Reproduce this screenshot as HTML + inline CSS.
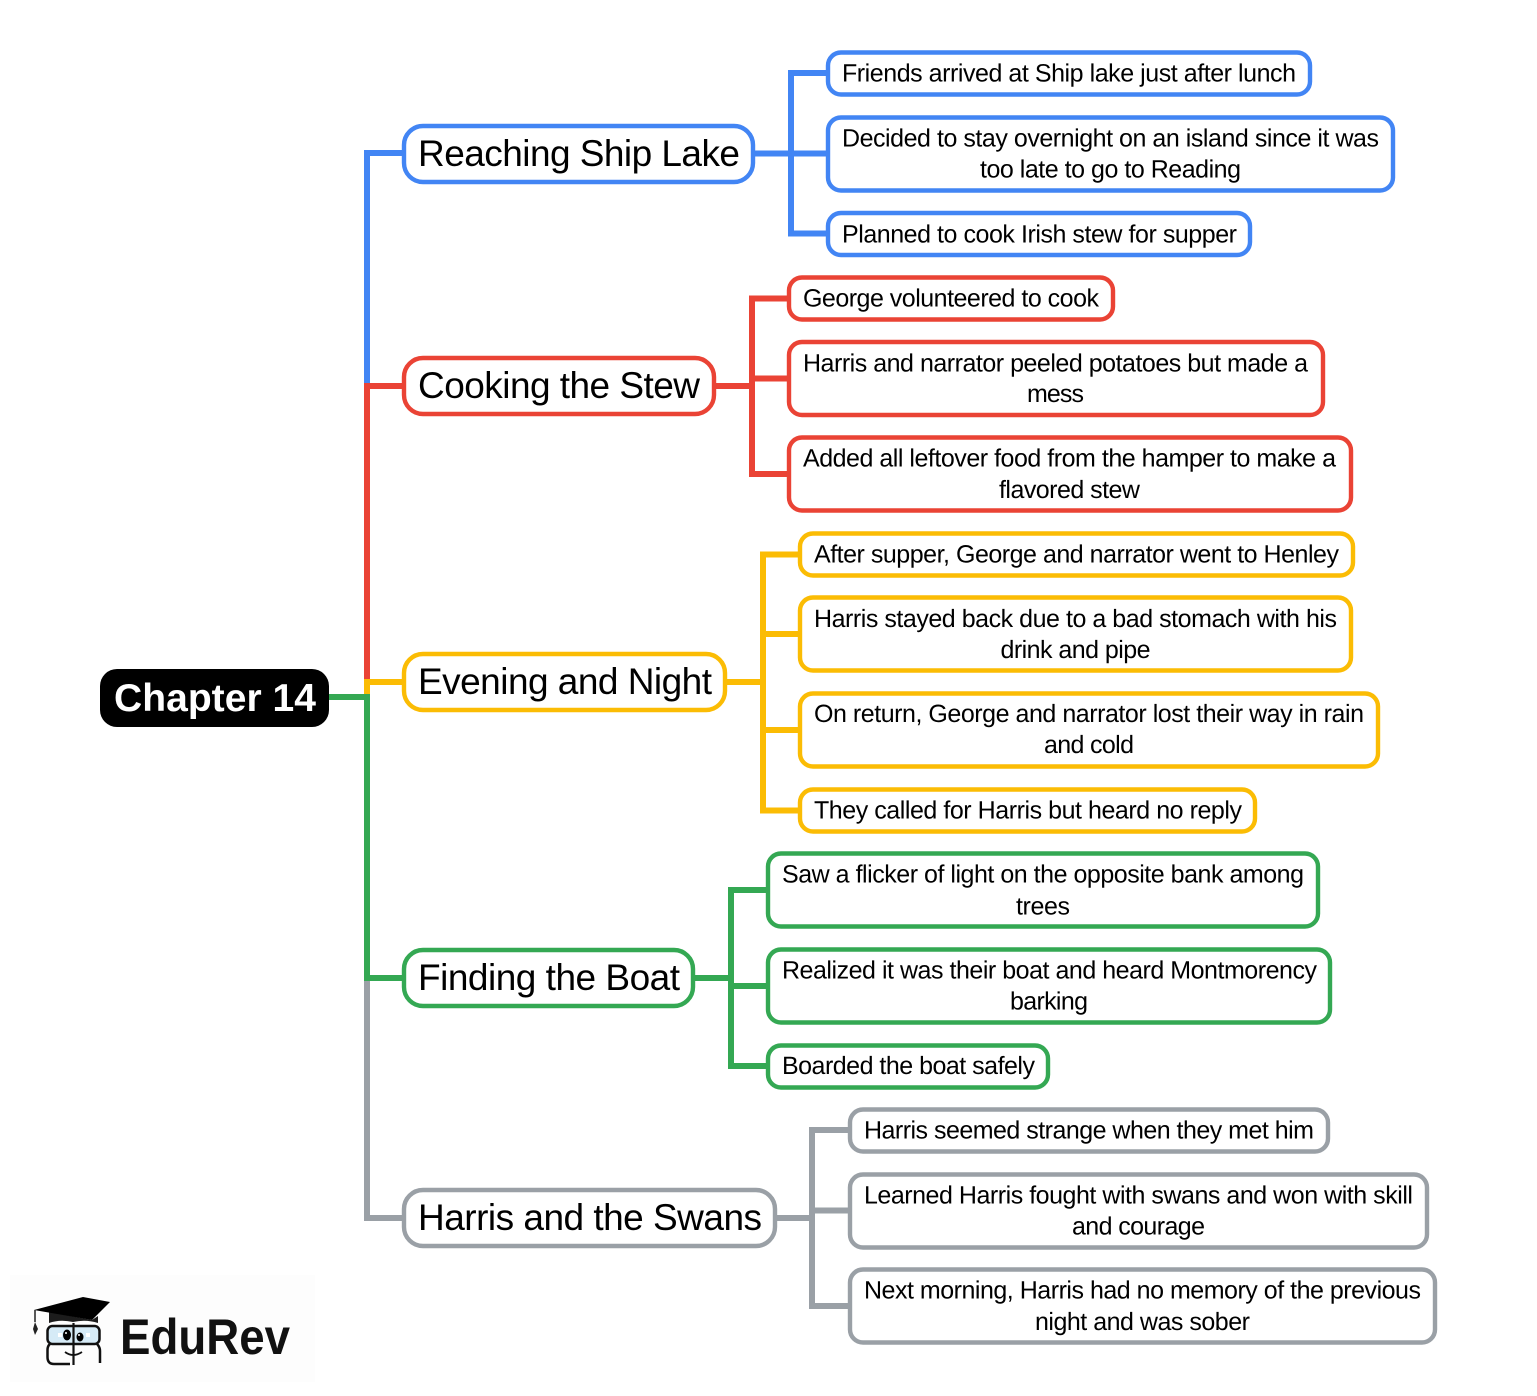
<!DOCTYPE html>
<html><head><meta charset="utf-8"><style>
html,body{margin:0;padding:0;background:#fff}
svg{display:block}
text{font-family:"Liberation Sans",sans-serif;fill:#000}
.l1{font-size:37px;text-anchor:start}
.l2{font-size:25px;text-anchor:middle;text-rendering:geometricPrecision;transform:rotate(0.001deg)}
.b{fill:#fff;stroke-width:4.400}
.c{fill:none;stroke-width:6}
</style></head><body>
<svg width="1537" height="1396" viewBox="0 0 1537 1396" xmlns="http://www.w3.org/2000/svg">
<rect width="1537" height="1396" fill="#fff"/>
<rect x="10" y="1275" width="305" height="107" fill="#fdfdfd"/>

<!-- trunk -->
<path class="c" stroke="#4285f4" d="M404 153H367V386"/>
<path class="c" stroke="#ea4335" d="M404 386H367V682"/>
<path class="c" stroke="#fbbc04" d="M404 682H367V697"/>
<path class="c" stroke="#9aa0a6" d="M367 978V1218H404"/>
<path class="c" stroke="#34a853" d="M329 697H367V978H404"/>

<!-- branches -->
<path class="c" stroke="#4285f4" d="M828 73H791V233.500H828M753 153.500H828"/>
<path class="c" stroke="#ea4335" d="M789 298.500H752V474H789M715 386H752M752 378.500H789"/>
<path class="c" stroke="#fbbc04" d="M800 554.500H763V810.500H800M726 682H763M763 634H800M763 730H800"/>
<path class="c" stroke="#34a853" d="M768 890H731V1066H768M694 978H731M731 986H768"/>
<path class="c" stroke="#9aa0a6" d="M850 1130H812V1306H850M776 1218H812M812 1210.500H850"/>

<!-- root -->
<rect x="100" y="669" width="229" height="58" rx="17" fill="#000"/>
<text x="114" y="711" font-size="39" font-weight="700" style="fill:#fff" textLength="202">Chapter 14</text>

<!-- level 1 -->
<g stroke="#4285f4"><rect class="b" x="404" y="126" width="349" height="56" rx="19"/></g>
<text class="l1" x="418" y="166" textLength="322">Reaching Ship Lake</text>
<g stroke="#ea4335"><rect class="b" x="404" y="358" width="310" height="56" rx="19"/></g>
<text class="l1" x="418" y="398" textLength="282">Cooking the Stew</text>
<g stroke="#fbbc04"><rect class="b" x="404" y="654" width="321" height="56" rx="19"/></g>
<text class="l1" x="418" y="694" textLength="294">Evening and Night</text>
<g stroke="#34a853"><rect class="b" x="404" y="950" width="289" height="56" rx="19"/></g>
<text class="l1" x="418" y="990" textLength="262">Finding the Boat</text>
<g stroke="#9aa0a6"><rect class="b" x="404" y="1190" width="371" height="56" rx="19"/></g>
<text class="l1" x="418" y="1230" textLength="344">Harris and the Swans</text>

<!-- blue -->
<g stroke="#4285f4">
<rect class="b" x="828" y="52.500" width="482" height="42" rx="13"/>
<rect class="b" x="828" y="117.500" width="565" height="73" rx="13"/>
<rect class="b" x="828" y="213" width="422" height="42" rx="13"/>
</g>
<text class="l2" x="1069" y="81.500" textLength="454">Friends arrived at Ship lake just after lunch</text>
<text class="l2" x="1110.500" y="146.500" textLength="537">Decided to stay overnight on an island since it was</text>
<text class="l2" x="1110.500" y="177.500" textLength="261">too late to go to Reading</text>
<text class="l2" x="1039.500" y="242.500" textLength="395">Planned to cook Irish stew for supper</text>

<!-- red -->
<g stroke="#ea4335">
<rect class="b" x="789" y="277.500" width="324" height="42" rx="13"/>
<rect class="b" x="789" y="342" width="534" height="73" rx="13"/>
<rect class="b" x="789" y="437.500" width="562" height="73" rx="13"/>
</g>
<text class="l2" x="951" y="306.500" textLength="296">George volunteered to cook</text>
<text class="l2" x="1055.500" y="371.500" textLength="505">Harris and narrator peeled potatoes but made a</text>
<text class="l2" x="1055.500" y="402" textLength="57">mess</text>
<text class="l2" x="1069.500" y="466.500" textLength="533">Added all leftover food from the hamper to make a</text>
<text class="l2" x="1069.500" y="498" textLength="141">flavored stew</text>

<!-- yellow -->
<g stroke="#fbbc04">
<rect class="b" x="800" y="533.500" width="553" height="42" rx="13"/>
<rect class="b" x="800" y="597.500" width="551" height="73" rx="13"/>
<rect class="b" x="800" y="693.500" width="578" height="73" rx="13"/>
<rect class="b" x="800" y="789.500" width="455" height="42" rx="13"/>
</g>
<text class="l2" x="1076.500" y="562.500" textLength="525">After supper, George and narrator went to Henley</text>
<text class="l2" x="1075.500" y="627" textLength="523">Harris stayed back due to a bad stomach with his</text>
<text class="l2" x="1075.500" y="658" textLength="150">drink and pipe</text>
<text class="l2" x="1089" y="722" textLength="550">On return, George and narrator lost their way in rain</text>
<text class="l2" x="1089" y="753" textLength="90">and cold</text>
<text class="l2" x="1028" y="818.500" textLength="428">They called for Harris but heard no reply</text>

<!-- green -->
<g stroke="#34a853">
<rect class="b" x="768" y="853.500" width="550" height="73" rx="13"/>
<rect class="b" x="768" y="949.500" width="562" height="73" rx="13"/>
<rect class="b" x="768" y="1045.500" width="280" height="42" rx="13"/>
</g>
<text class="l2" x="1043" y="882.500" textLength="522">Saw a flicker of light on the opposite bank among</text>
<text class="l2" x="1043" y="914.500" textLength="54">trees</text>
<text class="l2" x="1049.500" y="978.500" textLength="535">Realized it was their boat and heard Montmorency</text>
<text class="l2" x="1049" y="1009.500" textLength="78">barking</text>
<text class="l2" x="908.500" y="1074" textLength="253">Boarded the boat safely</text>

<!-- gray -->
<g stroke="#9aa0a6">
<rect class="b" x="850" y="1109.500" width="478" height="42" rx="13"/>
<rect class="b" x="850" y="1174.500" width="577" height="73" rx="13"/>
<rect class="b" x="850" y="1269.500" width="585" height="73" rx="13"/>
</g>
<text class="l2" x="1089" y="1138.500" textLength="450">Harris seemed strange when they met him</text>
<text class="l2" x="1138.500" y="1203.500" textLength="549">Learned Harris fought with swans and won with skill</text>
<text class="l2" x="1138.500" y="1234.500" textLength="133">and courage</text>
<text class="l2" x="1142.500" y="1298.500" textLength="557">Next morning, Harris had no memory of the previous</text>
<text class="l2" x="1142.500" y="1330" textLength="215">night and was sober</text>

<!-- logo -->
<g>
<path d="M49 1312V1323Q60 1319 73 1322Q86 1319 98 1323V1316L92 1320Z" fill="#1c1c1c"/>
<path d="M34 1310L83 1297L110 1302L92 1320Z" fill="#000"/>
<path d="M35 1310V1322" stroke="#222" stroke-width="1.500" fill="none"/>
<path d="M33 1329L35 1322L38 1329L35 1335Z" fill="#222"/>
<path d="M55 1325Q63 1319 69 1324M80 1324Q86 1321 92 1324" fill="none" stroke="#fff" stroke-width="1.200"/>
<rect x="47.500" y="1326" width="52" height="18" rx="5" fill="#d6ebf7" stroke="#111" stroke-width="2.500"/>
<path d="M73.500 1323V1365" stroke="#111" stroke-width="2.200"/>
<path d="M70 1364H54Q47.500 1364 47.500 1357V1350Q47.500 1346 50 1344M97 1344Q100 1347 100 1351V1363" fill="none" stroke="#111" stroke-width="2.500"/>
<rect x="58" y="1333" width="4" height="4" fill="#fff"/>
<rect x="86" y="1333" width="4" height="4" fill="#fff"/>
<ellipse cx="67" cy="1335" rx="4" ry="5.500" fill="#000"/>
<ellipse cx="80" cy="1337" rx="3.500" ry="4.500" fill="#000"/>
<circle cx="66" cy="1333" r="1" fill="#fff"/>
<circle cx="79" cy="1335" r="1" fill="#fff"/>
<path d="M65 1352Q73 1358 82 1352" fill="none" stroke="#111" stroke-width="1.800"/>
</g>
<text x="120" y="1354" font-size="50" font-weight="700" style="fill:#111" textLength="170" lengthAdjust="spacingAndGlyphs">EduRev</text>
</svg>
</body></html>
